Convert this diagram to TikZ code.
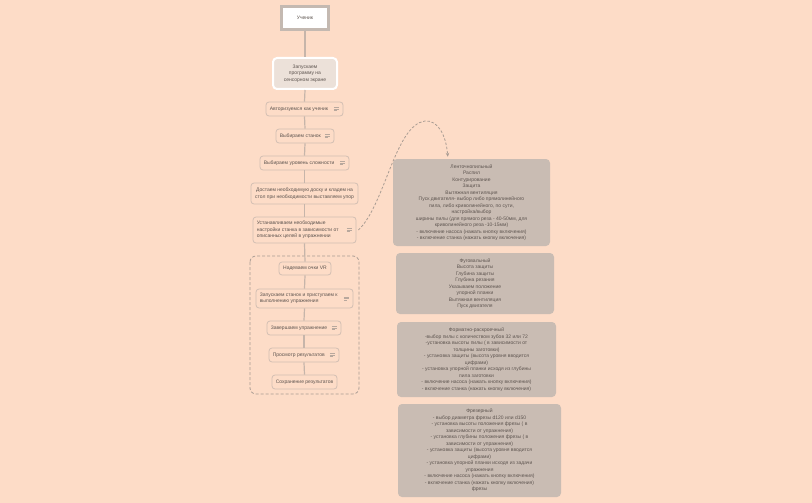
\documentclass[tikz,border=0pt]{standalone}
\usepackage{fontspec}
\setmainfont{Liberation Sans}
\usetikzlibrary{arrows.meta,calc}
\definecolor{bg}{HTML}{FDDCC7}
\definecolor{nodeline}{HTML}{D2BFB3}
\definecolor{connline}{HTML}{C6B5AA}
\definecolor{txtc}{HTML}{5E5550}
\definecolor{boxfill}{HTML}{C9BCB3}
\definecolor{grpline}{HTML}{A99C93}
\definecolor{iconc}{HTML}{B8A89D}
\definecolor{startfill}{HTML}{ECE1D9}
\definecolor{topline}{HTML}{C4B9B1}
\tikzset{
  stepbox/.style={draw=nodeline, line width=0.8pt, rounded corners=3pt, inner sep=0pt, fill=bg},
  lbl/.style={text=txtc, font=\fontsize{5}{6.5}\selectfont, inner sep=0pt},
  infobox/.style={fill=boxfill, rounded corners=4pt, inner sep=0pt, text=txtc, align=center, font=\fontsize{5}{6.5}\selectfont},
  conn/.style={draw=connline, line width=1.2pt},
  noteicon/.pic={\draw[iconc, line width=0.6pt] (-2.5,-1.5)--(2.5,-1.5) (-2.5,0)--(2.5,0) (-2.5,1.5)--(0.5,1.5);}
}
\begin{document}
\begin{tikzpicture}[x=1pt,y=-1pt]
\useasboundingbox (0,0) rectangle (812,503);
\fill[bg] (0,0) rectangle (812,503);

% dashed group
\draw[grpline, line width=0.8pt, dash pattern=on 3pt off 2pt, rounded corners=6pt] (250,256) rectangle (359,394);

% top nodes
\node[draw=topline, fill=white, line width=2.5pt, minimum width=47pt, minimum height=23pt, inner sep=0pt, lbl] (n1) at (305,18) {Ученик};
\node[draw=white, fill=startfill, line width=2pt, rounded corners=4pt, minimum width=64pt, minimum height=31pt, inner sep=0pt, lbl, align=center] (n2) at (305,73.5) {Запускаем\\программу на\\сенсорном экране};

% nodes with icons
\node[stepbox, minimum width=77pt, minimum height=14pt] (n3) at (304.5,109) {};
\node[lbl, anchor=west] (t3) at ([xshift=4pt]n3.west) {Авторизуемся как ученик};
\pic at ([xshift=-7pt]n3.east) {noteicon};

\node[stepbox, minimum width=58pt, minimum height=14pt] (n4) at (305,136) {};
\node[lbl, anchor=west] (t4) at ([xshift=4pt]n4.west) {Выбираем станок};
\pic at ([xshift=-7pt]n4.east) {noteicon};

\node[stepbox, minimum width=89pt, minimum height=14pt] (n5) at (304.5,163) {};
\node[lbl, anchor=west] (t5) at ([xshift=4pt]n5.west) {Выбираем уровень сложности};
\pic at ([xshift=-7pt]n5.east) {noteicon};

\node[stepbox, minimum width=107pt, minimum height=21pt, lbl, align=center] (n6) at (304.5,193.5) {Достаем необходимую доску и кладем на\\стол при необходимости выставляем упор};

\node[stepbox, minimum width=103pt, minimum height=26pt] (n7) at (304.5,230) {};
\node[lbl, anchor=west, align=left] (t7) at ([xshift=4pt]n7.west) {Устанавливаем необходимые\\настройки станка в зависимости от\\описанных целей в упражнении};
\pic at ([xshift=-7pt]n7.east) {noteicon};

\node[stepbox, minimum width=52pt, minimum height=13pt, lbl] (n8) at (305,268.5) {Надеваем очки VR};

\node[stepbox, minimum width=97pt, minimum height=19pt] (n9) at (304.5,298.5) {};
\node[lbl, anchor=west, align=left] (t9) at ([xshift=4pt]n9.west) {Запускаем станок и приступаем к\\выполнению упражнения};
\pic at ([xshift=-7pt]n9.east) {noteicon};

\node[stepbox, minimum width=74pt, minimum height=14pt] (n10) at (304,328) {};
\node[lbl, anchor=west] (t10) at ([xshift=4pt]n10.west) {Завершаем упражнение};
\pic at ([xshift=-7pt]n10.east) {noteicon};

\node[stepbox, minimum width=70pt, minimum height=14pt] (n11) at (304,355) {};
\node[lbl, anchor=west] (t11) at ([xshift=4pt]n11.west) {Просмотр результатов};
\pic at ([xshift=-7pt]n11.east) {noteicon};

\node[stepbox, minimum width=65pt, minimum height=14pt, lbl] (n12) at (304.5,382) {Сохранение результатов};

% connectors
\foreach \a/\b in {n1/n2,n2/n3,n3/n4,n4/n5,n5/n6,n6/n7,n7/n8,n8/n9,n9/n10,n10/n11,n11/n12}
  \draw[conn] (\a.south) -- (\b.north);

% right info boxes
\node[infobox, minimum width=157pt, minimum height=87pt] (A) at (471.5,202.5) {Ленточнопильный\\Распил\\Контурирование\\Защита\\Вытяжная вентиляция\\Пуск двигателя- выбор либо прямолинейного\\пила, либо криволинейного, по сути,\\настройка/выбор\\ширины пилы (для прямого реза - 40-50мм, для\\криволинейного реза -10-15мм)\\- включение насоса (нажать кнопку включения)\\- включение станка (нажать кнопку включения)};

\node[infobox, minimum width=158pt, minimum height=61pt] (B) at (475,283.5) {Фуговальный\\Высота защиты\\Глубина защиты\\Глубина резания\\Указываем положение\\упорной планки\\Вытяжная вентиляция\\Пуск двигателя};

\node[infobox, minimum width=159pt, minimum height=75pt] (C) at (476.5,359.5) {Форматно-раскроечный\\-выбор пилы с количеством зубов 32 или 72\\-установка высоты пилы ( в зависимости от\\толщины заготовки)\\- установка защиты (высота уровня вводится\\цифрами)\\- установка упорной планки исходя из глубины\\пила заготовки\\- включение насоса (нажать кнопку включения)\\- включение станка (нажать кнопку включения)};

\node[infobox, minimum width=163pt, minimum height=93pt] (D) at (479.5,450.5) {Фрезерный\\- выбор диаметра фрезы d120 или d150\\- установка высоты положения фрезы ( в\\зависимости от упражнения)\\- установка глубины положения фрезы ( в\\зависимости от упражнения)\\- установка защиты (высота уровня вводится\\цифрами)\\- установка упорной планки исходя из задачи\\упражнения\\- включение насоса (нажать кнопку включения)\\- включение станка (нажать кнопку включения)\\фрезы};

% dashed curved arrow
\coordinate (aTip) at ($(A.north west)+(55,-2)$);
\draw[grpline, line width=0.8pt, dash pattern=on 2.5pt off 1.8pt, -{Stealth[length=4pt,width=3.5pt]}]
  ([xshift=2pt]n7.east) .. controls (385,205) and (395,125) .. (425,121)
  .. controls (438,120) and (446,135) .. (aTip);
\end{tikzpicture}
\end{document}
